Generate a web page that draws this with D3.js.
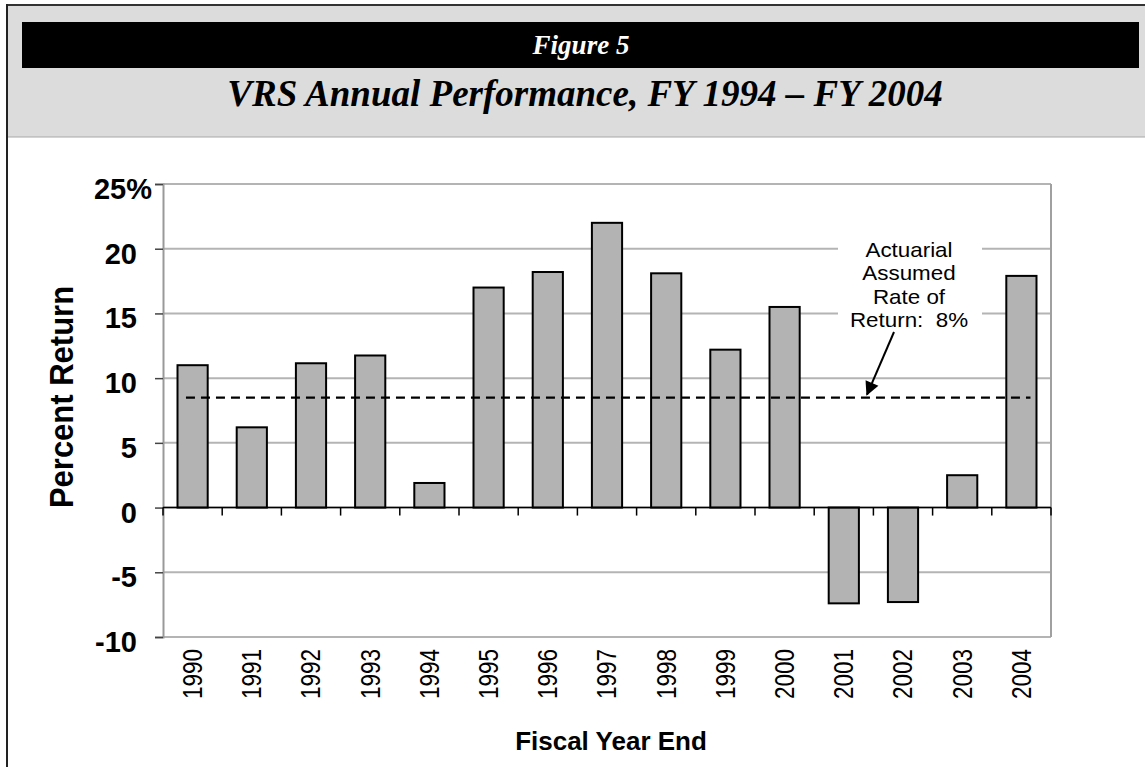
<!DOCTYPE html>
<html>
<head>
<meta charset="utf-8">
<script src="https://cdn.jsdelivr.net/npm/d3@7"></script>
<style>
    body { margin: 0; background: #ffffff; }
    svg { display: block; }
</style>
</head>
<body>
<div id="chart_div"></div>
<script>

// data
var years = ["1990", "1991", "1992", "1993", "1994", "1995", "1996", "1997",
             "1998", "1999", "2000", "2001", "2002", "2003", "2004"];
var returns = [11.0, 6.2, 11.15, 11.75, 1.9, 17.0, 18.2, 22.0,
               18.1, 12.2, 15.5, -7.4, -7.3, 2.5, 17.9];
var assumedRate = 8.5;
var yTicks = [-10, -5, 0, 5, 10, 15, 20, 25];
var noteLines = ["Actuarial", "Assumed", "Rate of", "Return:  8%"];

var figLabel = "Figure 5";
var title = "VRS Annual Performance, FY 1994 \u2013 FY 2004";

var outerWidth = 1145,
    outerHeight = 767;

var plot = {left: 163, right: 1051, top: 184, bottom: 637};

var svg = d3.select("#chart_div")
    .append("svg")
    .attr("width", outerWidth)
    .attr("height", outerHeight);

// header frame
svg.append("rect")
    .attr("x", 7)
    .attr("y", 5)
    .attr("width", outerWidth - 7)
    .attr("height", 132)
    .style("fill", "#dcdcdc");

svg.append("line")
    .attr("x1", 7).attr("y1", 137)
    .attr("x2", outerWidth).attr("y2", 137)
    .style("stroke", "#a8a8a8")
    .style("stroke-width", 1);

svg.append("line")
    .attr("x1", 6).attr("y1", 5)
    .attr("x2", outerWidth).attr("y2", 5)
    .style("stroke", "#333")
    .style("stroke-width", 2);

svg.append("line")
    .attr("x1", 7).attr("y1", 4)
    .attr("x2", 7).attr("y2", outerHeight)
    .style("stroke", "#222")
    .style("stroke-width", 2);

svg.append("rect")
    .attr("x", 22)
    .attr("y", 22)
    .attr("width", 1117)
    .attr("height", 46)
    .style("fill", "#000");

svg.append("text")
    .attr("x", 581)
    .attr("y", 54)
    .style("font-family", "'Liberation Serif', 'Times New Roman', serif")
    .style("font-style", "italic")
    .style("font-weight", "bold")
    .style("font-size", "27px")
    .style("fill", "#fff")
    .style("text-anchor", "middle")
    .text(figLabel);

svg.append("text")
    .attr("x", 585)
    .attr("y", 106)
    .style("font-family", "'Liberation Serif', 'Times New Roman', serif")
    .style("font-style", "italic")
    .style("font-weight", "bold")
    .style("font-size", "37px")
    .style("fill", "#000")
    .style("text-anchor", "middle")
    .text(title);

// scales
var x = d3.scaleBand()
    .domain(years)
    .range([plot.left, plot.right])
    .paddingInner(0.49)
    .paddingOuter(0.245);

var y = d3.scaleLinear()
    .domain([-10, 25])
    .range([plot.bottom, plot.top]);

// gridlines
svg.append("g")
    .selectAll("line")
    .data(yTicks)
    .enter().append("line")
    .attr("x1", plot.left)
    .attr("x2", plot.right)
    .attr("y1", function(d) { return y(d); })
    .attr("y2", function(d) { return y(d); })
    .style("stroke", "#b4b4b4")
    .style("stroke-width", 2);

// right border of plot area
svg.append("line")
    .attr("x1", plot.right).attr("x2", plot.right)
    .attr("y1", y(25)).attr("y2", y(-10))
    .style("stroke", "#a0a0a0")
    .style("stroke-width", 2);

// white box behind the note
svg.append("rect")
    .attr("x", 838)
    .attr("y", 234)
    .attr("width", 144)
    .attr("height", 100)
    .style("fill", "#fff");

// Y axis
var yAxis = d3.axisLeft(y)
    .tickValues(yTicks)
    .tickSize(8)
    .tickPadding(18)
    .tickFormat(function(d) { return d == 25 ? d + "%" : d; });

var yG = svg.append("g")
    .attr("transform", "translate(" + plot.left + ",0)")
    .call(yAxis);

yG.select(".domain")
    .style("stroke", "#999")
    .style("stroke-width", 2);

yG.selectAll(".tick line")
    .style("stroke", "#444")
    .style("stroke-width", 1.5);

yG.selectAll(".tick text")
    .attr("dy", "0.5em")
    .style("font-family", "Arial, 'Liberation Sans', sans-serif")
    .style("font-weight", "bold")
    .style("font-size", "29px")
    .style("fill", "#000");

// top label sticks out to the right
yG.selectAll(".tick text")
    .filter(function(d) { return d == 25; })
    .attr("x", -11);

svg.append("text")
    .attr("transform", "translate(73,397) rotate(-90) scale(1,1.1)")
    .style("font-family", "Arial, 'Liberation Sans', sans-serif")
    .style("font-weight", "bold")
    .style("font-size", "31px")
    .style("text-anchor", "middle")
    .text("Percent Return");

// bars
svg.append("g")
    .selectAll(".bar")
    .data(returns)
    .enter().append("rect")
    .classed("bar", true)
    .attr("x", function(d, i) { return x(years[i]); })
    .attr("width", x.bandwidth())
    .attr("y", function(d) { return y(Math.max(d, 0)); })
    .attr("height", function(d) { return Math.abs(y(d) - y(0)); })
    .style("fill", "#b3b3b3")
    .style("stroke", "#000")
    .style("stroke-width", 2);

// zero line with category ticks
svg.append("line")
    .attr("x1", plot.left).attr("x2", plot.right)
    .attr("y1", y(0)).attr("y2", y(0))
    .style("stroke", "#000")
    .style("stroke-width", 1.5);

svg.append("g")
    .selectAll("line")
    .data(d3.range(years.length + 1))
    .enter().append("line")
    .attr("x1", function(i) { return plot.left + i * x.step(); })
    .attr("x2", function(i) { return plot.left + i * x.step(); })
    .attr("y1", y(0))
    .attr("y2", y(0) + 8)
    .style("stroke", "#000")
    .style("stroke-width", 1.5);

// year labels
svg.append("g")
    .selectAll("text")
    .data(years)
    .enter().append("text")
    .attr("transform", function(d) {
        return "translate(" + (x(d) + x.bandwidth() / 2) + ",649) rotate(-90) scale(1,1.2)";
    })
    .attr("dy", "0.35em")
    .style("font-family", "Arial, 'Liberation Sans', sans-serif")
    .style("font-size", "22.5px")
    .style("text-anchor", "end")
    .text(function(d) { return d; });

svg.append("text")
    .attr("x", 611)
    .attr("y", 750)
    .style("font-family", "Arial, 'Liberation Sans', sans-serif")
    .style("font-weight", "bold")
    .style("font-size", "26px")
    .style("text-anchor", "middle")
    .text("Fiscal Year End");

// assumed rate line
svg.append("line")
    .attr("x1", x(years[0]) + x.bandwidth() * 0.28)
    .attr("x2", x(years[years.length - 1]) + x.bandwidth() * 0.8)
    .attr("y1", y(assumedRate))
    .attr("y2", y(assumedRate))
    .style("stroke", "#000")
    .style("stroke-width", 2.2)
    .style("stroke-dasharray", "9,6");

// note and arrow
svg.append("defs")
    .append("marker")
    .attr("id", "arrow")
    .attr("viewBox", "0 0 10 10")
    .attr("refX", 9)
    .attr("refY", 5)
    .attr("markerWidth", 7.5)
    .attr("markerHeight", 7)
    .attr("markerUnits", "strokeWidth")
    .attr("orient", "auto")
    .append("path")
    .attr("d", "M0,0 L10,5 L0,10 Z")
    .style("fill", "#000");

svg.append("line")
    .attr("x1", 894).attr("y1", 332)
    .attr("x2", 867).attr("y2", y(assumedRate) - 3)
    .style("stroke", "#000")
    .style("stroke-width", 2)
    .attr("marker-end", "url(#arrow)");

// tight line spacing, so keep the font a bit smaller and widen it
svg.append("g")
    .selectAll("text")
    .data(noteLines)
    .enter().append("text")
    .attr("transform", function(d, i) {
        return "translate(909," + (257 + i * 23.4) + ") scale(1.12,1)";
    })
    .style("font-family", "Arial, 'Liberation Sans', sans-serif")
    .style("font-size", "20px")
    .style("text-anchor", "middle")
    .style("white-space", "pre")
    .text(function(d) { return d; });

</script>
</body>
</html>
